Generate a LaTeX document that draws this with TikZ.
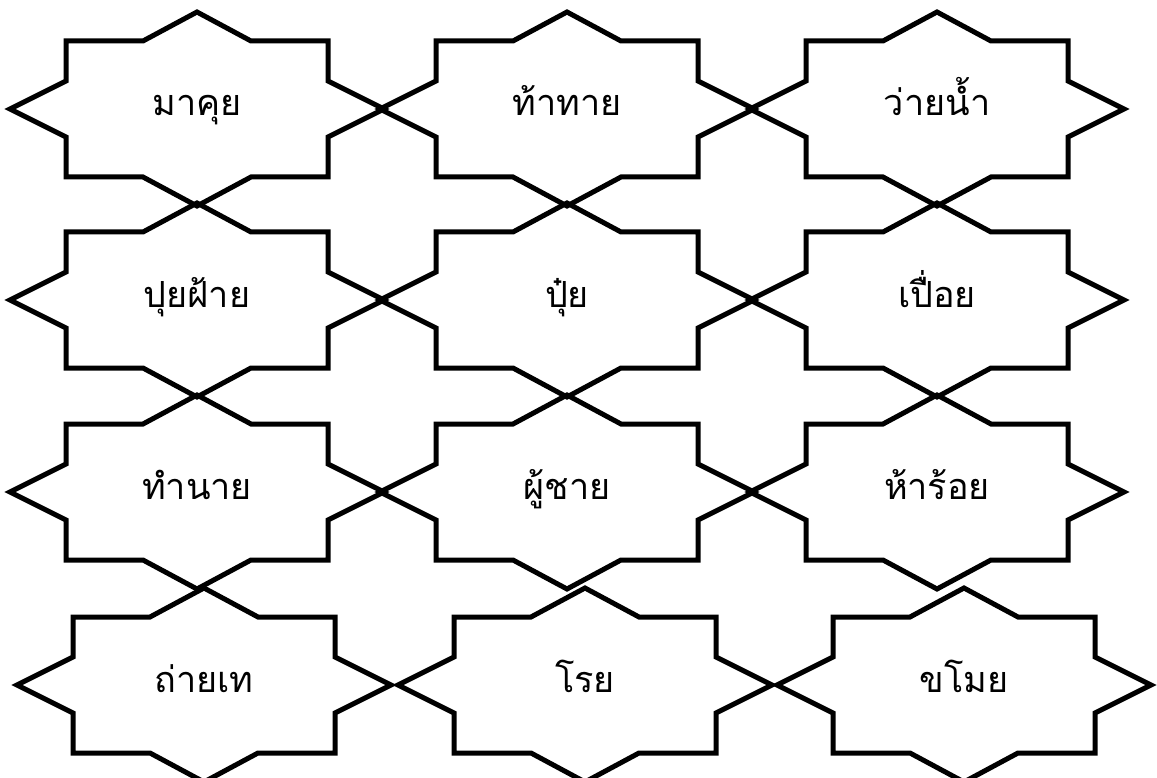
\documentclass[tikz,border=0pt]{standalone}
\usepackage{fontspec}
\newfontfamily\thai[Script=Thai]{Loma}
\tikzset{
  starline/.style={line width=5pt, line join=miter, black},
  lbl/.style={font=\thai\fontsize{36}{40}\selectfont, anchor=base, inner sep=0pt},
  pics/starpoly/.style={code={
    \draw[starline] (0,97) -- (54,68) -- (131,68) -- (131,28) -- (187,0) -- (131,-28) -- (131,-68)
      -- (54,-68) -- (0,-97) -- (-54,-68) -- (-131,-68) -- (-131,-28) -- (-187,0) -- (-131,28)
      -- (-131,68) -- (-54,68) -- cycle;}}
}
\begin{document}
\begin{tikzpicture}[x=1pt,y=-1pt]
\useasboundingbox (0,0) rectangle (1157,778);
% centres
\coordinate (c11) at (197,109);
\coordinate (c12) at (567,109);
\coordinate (c13) at (937,109);
\coordinate (c21) at (197,300);
\coordinate (c22) at (567,300);
\coordinate (c23) at (937,300);
\coordinate (c31) at (197,492);
\coordinate (c32) at (567,492);
\coordinate (c33) at (937,492);
\coordinate (c41) at (204,685);
\coordinate (c42) at (585,685);
\coordinate (c43) at (964,685);
\foreach \c in {c11,c12,c13,c21,c22,c23,c31,c32,c33,c41,c42,c43}
  \pic at (\c) {starpoly};
\node[lbl] (t11) at ([yshift=-7pt]c11) {มาคุย};
\node[lbl] (t12) at ([yshift=-7pt]c12) {ท้าทาย};
\node[lbl] (t13) at ([yshift=-7pt]c13) {ว่ายน้ำ};
\node[lbl] (t21) at ([yshift=-7pt]c21) {ปุยฝ้าย};
\node[lbl] (t22) at ([yshift=-7pt]c22) {ปุ๋ย};
\node[lbl] (t23) at ([yshift=-7pt]c23) {เปื่อย};
\node[lbl] (t31) at ([yshift=-7pt]c31) {ทำนาย};
\node[lbl] (t32) at ([yshift=-7pt]c32) {ผู้ชาย};
\node[lbl] (t33) at ([yshift=-7pt]c33) {ห้าร้อย};
\node[lbl] (t41) at ([yshift=-7pt]c41) {ถ่ายเท};
\node[lbl] (t42) at ([yshift=-7pt]c42) {โรย};
\node[lbl] (t43) at ([yshift=-7pt]c43) {ขโมย};
\end{tikzpicture}
\end{document}
